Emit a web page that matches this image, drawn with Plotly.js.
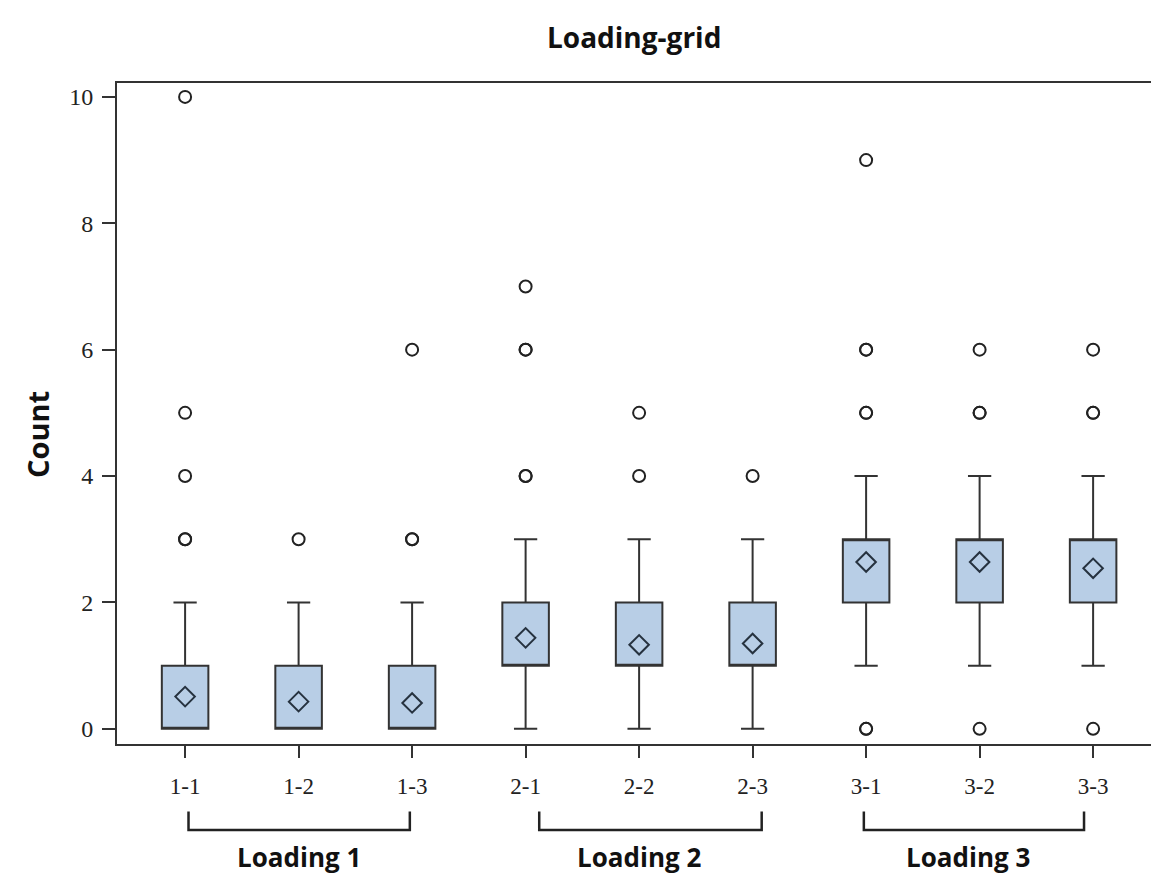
<!DOCTYPE html>
<html>
<head>
<meta charset="utf-8">
<script src="https://cdn.plot.ly/plotly-3.0.1.min.js"></script>
<style>html,body{margin:0;padding:0;background:#fff;}#chart{width:1151px;height:878px;}</style>
</head>
<body>
<div id="chart"></div>
<script>
// ---- data ----
const categories = ["1-1","1-2","1-3","2-1","2-2","2-3","3-1","3-2","3-3"];
const q1Values     = [0, 0, 0, 1, 1, 1, 2, 2, 2];
const medianValues = [0, 0, 0, 1, 1, 1, 3, 3, 3];
const q3Values     = [1, 1, 1, 2, 2, 2, 3, 3, 3];
const lowerWhisker = [0, 0, 0, 0, 0, 0, 1, 1, 1];
const upperWhisker = [2, 2, 2, 3, 3, 3, 4, 4, 4];
const meanValues   = [0.51, 0.43, 0.41, 1.44, 1.33, 1.35, 2.64, 2.64, 2.54];
// outliers per category (repeated values = overlapping points)
const outliers = {
  "1-1": [3, 3, 4, 5, 10],
  "1-2": [3],
  "1-3": [3, 3, 6],
  "2-1": [4, 4, 6, 6, 7],
  "2-2": [4, 5],
  "2-3": [4],
  "3-1": [0, 0, 5, 5, 6, 6, 9],
  "3-2": [0, 5, 5, 6],
  "3-3": [0, 5, 5, 6]
};
// group brackets under the axis (category-index positions as drawn)
const groupLabels = ["Loading 1", "Loading 2", "Loading 3"];
const groupFrom   = [0.03, 3.12, 5.98];
const groupTo     = [1.98, 5.08, 7.92];
const groupCenter = [1.0, 4.0, 6.9];
const yTicks = [0, 2, 4, 6, 8, 10];

// ---- build traces ----
const outX = [], outY = [];
categories.forEach(c => outliers[c].forEach(v => { outX.push(c); outY.push(v); }));

const boxTrace = {
  type: "box",
  x: categories,
  q1: q1Values,
  median: medianValues,
  q3: q3Values,
  lowerfence: lowerWhisker,
  upperfence: upperWhisker,
  boxpoints: false,
  width: 0.41,
  whiskerwidth: 0.5,
  fillcolor: "#b8cee6",
  line: {color: "#333333", width: 2},
  hoverinfo: "skip",
  showlegend: false
};
const meanTrace = {
  type: "scatter", mode: "markers",
  x: categories, y: meanValues,
  marker: {symbol: "diamond-open", size: 15, color: "#26323f", line: {width: 2, color: "#26323f"}},
  showlegend: false
};
const outlierTrace = {
  type: "scatter", mode: "markers",
  x: outX, y: outY,
  marker: {symbol: "circle-open", size: 12, color: "#222", line: {width: 2, color: "#222"}},
  showlegend: false
};

const shapes = [], annotations = [];
groupLabels.forEach((lab, i) => {
  shapes.push({
    type: "path", xref: "x", yref: "paper",
    path: `M ${groupFrom[i]},-0.102 L ${groupFrom[i]},-0.130 L ${groupTo[i]},-0.130 L ${groupTo[i]},-0.102`,
    line: {color: "#222", width: 2.5}
  });
  annotations.push({
    xref: "x", yref: "paper", x: groupCenter[i], y: -0.171,
    yanchor: "middle", xanchor: "center", showarrow: false,
    text: "<b>" + lab + "</b>",
    font: {family: "Open Sans, sans-serif", size: 26, color: "#111"}
  });
});
// y axis title, placed as in the reference (slightly below plot centre)
annotations.push({
  xref: "paper", yref: "paper", x: -0.0764, y: 0.4675,
  xanchor: "center", yanchor: "middle", showarrow: false, textangle: -90,
  text: "<b>Count</b>",
  font: {family: "Open Sans, sans-serif", size: 29, color: "#111"}
});

const layout = {
  width: 1151, height: 878,
  margin: {l: 117, r: 0, t: 83, b: 134},
  paper_bgcolor: "#fff", plot_bgcolor: "#fff",
  title: {
    text: "<b>Loading-grid</b>",
    x: 0.551, xref: "container", xanchor: "center",
    y: 0.957, yref: "container", yanchor: "middle",
    font: {family: "Open Sans, sans-serif", size: 28, color: "#111"}
  },
  xaxis: {
    type: "category", range: [-0.6, 8.51],
    showline: true, linecolor: "#333", linewidth: 2, mirror: true,
    ticks: "outside", ticklen: 12, tickwidth: 2, tickcolor: "#333",
    ticklabelstandoff: 8,
    tickfont: {family: "Liberation Serif, serif", size: 23, color: "#222"},
    showgrid: false, zeroline: false, fixedrange: true
  },
  yaxis: {
    range: [-0.24, 10.22],
    tickvals: yTicks, ticktext: yTicks.map(String),
    showline: true, linecolor: "#333", linewidth: 2,
    ticks: "outside", ticklen: 13, tickwidth: 2, tickcolor: "#333",
    ticklabelstandoff: 4,
    tickfont: {family: "Liberation Serif, serif", size: 24, color: "#222"},
    showgrid: false, zeroline: false, fixedrange: true
  },
  shapes: shapes,
  annotations: annotations,
  showlegend: false
};

Plotly.newPlot("chart", [boxTrace, meanTrace, outlierTrace], layout, {displayModeBar: false, staticPlot: true});
</script>
</body>
</html>
